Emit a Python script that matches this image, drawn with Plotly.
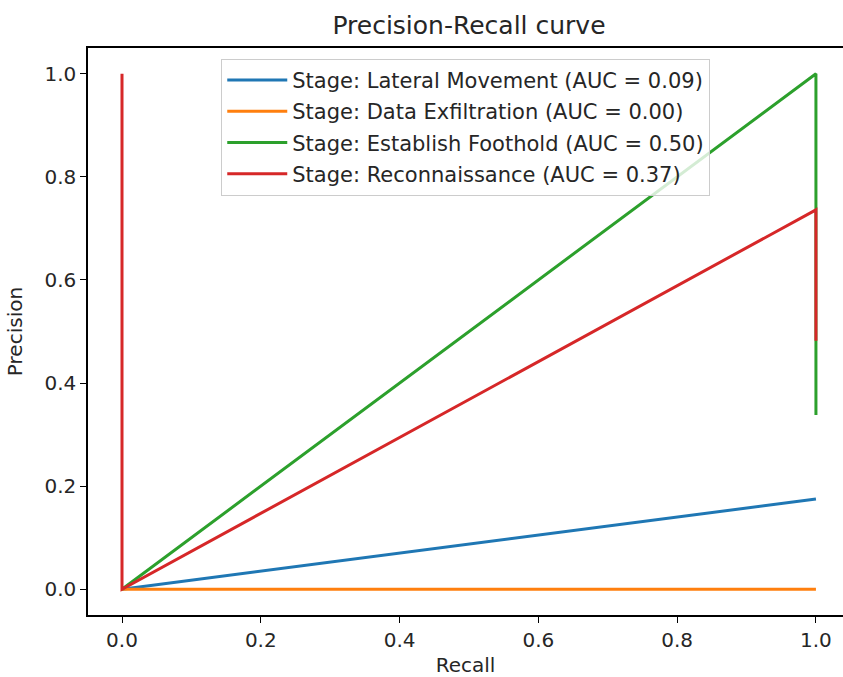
import plotly.graph_objects as go

# Data
labels = [
    "Stage: Lateral Movement (AUC = 0.09)",
    "Stage: Data Exfiltration (AUC = 0.00)",
    "Stage: Establish Foothold (AUC = 0.50)",
    "Stage: Reconnaissance (AUC = 0.37)",
]
colors = ["#1f77b4", "#ff7f0e", "#2ca02c", "#d62728"]

lateral_recall = [1.0, 0.0]
lateral_precision = [0.175, 0.0]

exfil_recall = [1.0, 0.0]
exfil_precision = [0.0, 0.0]

foothold_recall = [1.0, 1.0, 1.0, 0.0]
foothold_precision = [0.338, 0.482, 1.0, 0.0]

recon_recall = [1.0, 1.0, 0.0, 0.0]
recon_precision = [0.482, 0.736, 0.0, 1.0]

tick_vals = [0.0, 0.2, 0.4, 0.6, 0.8, 1.0]
tick_text = ["0.0", "0.2", "0.4", "0.6", "0.8", "1.0"]

series = [
    (lateral_recall, lateral_precision),
    (exfil_recall, exfil_precision),
    (foothold_recall, foothold_precision),
    (recon_recall, recon_precision),
]

FONT = "DejaVu Sans"

fig = go.Figure()
for i, ((xs, ys), name, c) in enumerate(zip(series, labels, colors)):
    fig.add_trace(go.Scatter(
        x=xs, y=ys, mode="lines", name=name,
        line=dict(color=c, width=3),
        legendgroup=f"g{i}",
    ))

fig.update_layout(
    width=843, height=677,
    margin=dict(l=88, r=0, t=48, b=60),
    paper_bgcolor="white", plot_bgcolor="white",
    font=dict(family=FONT, size=20, color="#262626"),
    title=dict(text="Precision-Recall curve", x=0.5046, xref="paper", xanchor="center",
               y=1 - 25 / 677, yref="container", yanchor="middle",
               font=dict(family=FONT, size=25, color="#262626")),
    showlegend=True,
    legend=dict(x=0.1765, y=0.981, xanchor="left", yanchor="top",
                bgcolor="rgba(255,255,255,0.8)", bordercolor="#cccccc", borderwidth=1,
                font=dict(family=FONT, size=21, color="#262626"),
                tracegroupgap=1, itemwidth=60),
    xaxis=dict(range=[-0.049, 1.039], tickvals=tick_vals, ticktext=tick_text,
               showgrid=False, zeroline=False, showline=True, mirror=True,
               linecolor="black", linewidth=1.5, ticks="outside", ticklen=6,
               tickcolor="black", tickwidth=1.2,
               tickfont=dict(size=20),
               title=dict(text="Recall", standoff=11, font=dict(size=20))),
    yaxis=dict(range=[-0.05, 1.05], tickvals=tick_vals, ticktext=tick_text,
               showgrid=False, zeroline=False, showline=True, mirror=False,
               linecolor="black", linewidth=1.5, ticks="outside", ticklen=6,
               tickcolor="black", tickwidth=1.2,
               tickfont=dict(size=20),
               title=dict(text="Precision", standoff=16, font=dict(size=20))),
)

fig.write_html("out.html")
